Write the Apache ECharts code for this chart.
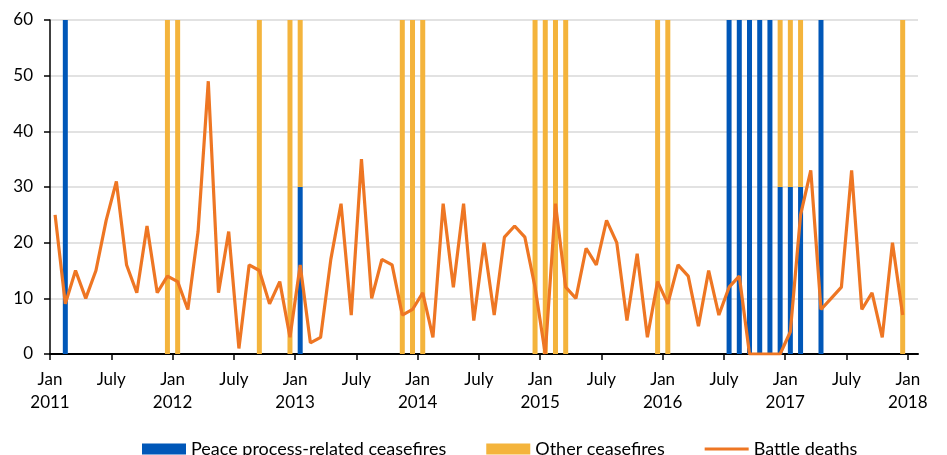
<!DOCTYPE html>
<html>
<head>
<meta charset="utf-8">
<script src="https://cdn.jsdelivr.net/npm/echarts@6/dist/echarts.min.js"></script>
<style>
  html, body { margin: 0; padding: 0; background: #fff; }
  #chart { width: 947px; height: 455px; }
</style>
</head>
<body>
<div id="chart"></div>
<script>
// 月度数据 2011年1月 - 2017年12月（每行一年）
var peaceCeasefires = [
  0, 60, 0, 0, 0, 0, 0, 0, 0, 0, 0, 0,
  0, 0, 0, 0, 0, 0, 0, 0, 0, 0, 0, 0,
  30, 0, 0, 0, 0, 0, 0, 0, 0, 0, 0, 0,
  0, 0, 0, 0, 0, 0, 0, 0, 0, 0, 0, 0,
  0, 0, 0, 0, 0, 0, 0, 0, 0, 0, 0, 0,
  0, 0, 0, 0, 0, 0, 60, 60, 60, 60, 60, 30,
  30, 30, 0, 60, 0, 0, 0, 0, 0, 0, 0, 0
];
var otherCeasefires = [
  0, 0, 0, 0, 0, 0, 0, 0, 0, 0, 0, 60,
  60, 0, 0, 0, 0, 0, 0, 0, 60, 0, 0, 60,
  30, 0, 0, 0, 0, 0, 0, 0, 0, 0, 60, 60,
  60, 0, 0, 0, 0, 0, 0, 0, 0, 0, 0, 60,
  60, 60, 60, 0, 0, 0, 0, 0, 0, 0, 0, 60,
  60, 0, 0, 0, 0, 0, 0, 0, 0, 0, 0, 30,
  30, 30, 0, 0, 0, 0, 0, 0, 0, 0, 0, 60
];
var battleDeaths = [
  25, 9, 15, 10, 15, 24, 31, 16, 11, 23, 11, 14,
  13, 8, 22, 49, 11, 22, 1, 16, 15, 9, 13, 3,
  16, 2, 3, 17, 27, 7, 35, 10, 17, 16, 7, 8,
  11, 3, 27, 12, 27, 6, 20, 7, 21, 23, 21, 12,
  0, 27, 12, 10, 19, 16, 24, 20, 6, 18, 3, 13,
  9, 16, 14, 5, 15, 7, 12, 14, 0, 0, 0, 0,
  4, 25, 33, 8, 10, 12, 33, 8, 11, 3, 20, 7
];
// x轴刻度（月份序号）和标签
var tickMonths = [0, 6, 12, 18, 24, 30, 36, 42, 48, 54, 60, 66, 72, 78, 84];
var tickLabels = ['Jan\n2011', 'July', 'Jan\n2012', 'July', 'Jan\n2013', 'July', 'Jan\n2014', 'July',
  'Jan\n2015', 'July', 'Jan\n2016', 'July', 'Jan\n2017', 'July', 'Jan\n2018'];

// 类目：2011-01 到 2018-01（最后一格留空）
var months = [];
for (var y = 2011; y <= 2018; y++) {
  for (var m = 1; m <= 12; m++) {
    if (y === 2018 && m > 1) break;
    months.push(y + '-' + (m < 10 ? '0' + m : m));
  }
}

var myChart = echarts.init(document.getElementById('chart'));
var font = 'Lato, "Noto Sans", sans-serif';
var option = {
  animation: false,
  textStyle: { fontFamily: font },
  grid: { left: 50, right: 29, top: 20, bottom: 101 },
  legend: {
    left: 137,
    top: 435,
    itemWidth: 44,
    itemHeight: 11,
    itemGap: 40,
    textStyle: { color: '#000', fontSize: 18, fontFamily: font },
    data: [
      { name: 'Peace process-related ceasefires', icon: 'rect' },
      { name: 'Other ceasefires', icon: 'rect' },
      { name: 'Battle deaths', icon: 'path://M0,0H46V3H0Z' }
    ]
  },
  xAxis: [{
    // 柱子和折线用的类目轴
    type: 'category',
    data: months,
    boundaryGap: true,
    axisLine: { lineStyle: { color: '#000', width: 2 } },
    axisTick: { show: false },
    axisLabel: { show: false },
    splitLine: { show: false }
  }, {
    // 只用来画刻度和年份标签
    type: 'value',
    position: 'bottom',
    min: 0,
    max: 85,
    axisLine: { show: false },
    axisTick: {
      show: true,
      customValues: tickMonths,
      length: 6,
      lineStyle: { color: '#000', width: 1.5 }
    },
    axisLabel: {
      customValues: tickMonths,
      color: '#000',
      fontSize: 17,
      lineHeight: 23,
      margin: 14,
      formatter: function (v) {
        var i = tickMonths.indexOf(v);
        return i >= 0 ? tickLabels[i] : '';
      }
    },
    splitLine: { show: false }
  }],
  yAxis: {
    type: 'value',
    min: 0,
    max: 60,
    interval: 10,
    axisLine: { show: true, lineStyle: { color: '#000', width: 1.5 } },
    axisTick: { show: true, length: 6, lineStyle: { color: '#000', width: 1.5 } },
    axisLabel: { color: '#000', fontSize: 17, margin: 17 },
    splitLine: { lineStyle: { color: '#d9d9d9', width: 1.5 } }
  },
  series: [
    {
      name: 'Peace process-related ceasefires',
      type: 'bar',
      stack: 'cf',
      barWidth: 5,
      itemStyle: { color: '#0057b8' },
      data: peaceCeasefires
    },
    {
      name: 'Other ceasefires',
      type: 'bar',
      stack: 'cf',
      barWidth: 5,
      itemStyle: { color: '#f4b43c' },
      data: otherCeasefires
    },
    {
      name: 'Battle deaths',
      type: 'line',
      symbol: 'none',
      z: 5,
      lineStyle: { color: '#ee7623', width: 3.2 },
      itemStyle: { color: '#ee7623' },
      data: battleDeaths
    }
  ]
};
myChart.setOption(option);
window.addEventListener('resize', function () {
  myChart.resize();
});
</script>
</body>
</html>
